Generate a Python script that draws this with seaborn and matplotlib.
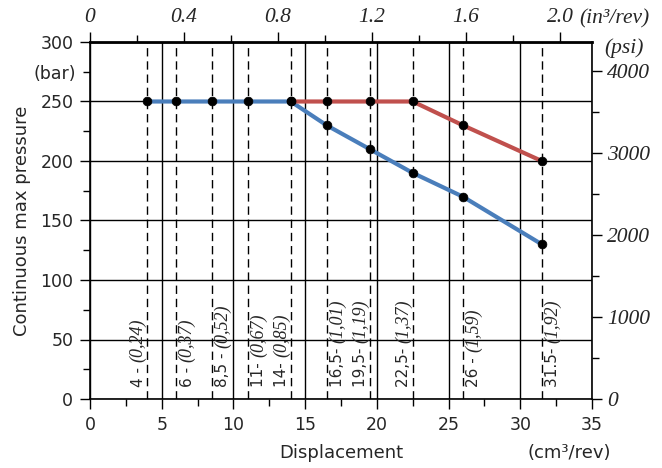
import numpy as np
import pandas as pd
import matplotlib
matplotlib.use("Agg")
import matplotlib.pyplot as plt
import seaborn as sns

# ---- data ----
disp = [4, 6, 8.5, 11, 14, 16.5, 19.5, 22.5, 26, 31.5]
blue_p = [250, 250, 250, 250, 250, 230, 210, 190, 170, 130]
red_disp = [14, 16.5, 19.5, 22.5, 26, 31.5]
red_p = [250, 250, 250, 250, 230, 200]
lab_num = ["4 - ", "6 - ", "8,5 - ", "11- ", "14- ", "16,5- ", "19,5- ", "22,5- ", "26 - ", "31.5- "]
lab_in = ["(0,24)", "(0,37)", "(0,52)", "(0,67)", "(0,85)", "(1,01)", "(1,19)", "(1,37)", "(1,59)", "(1,92)"]
lab_side = [-1, 1, 1, 1, -1, 1, -1, -1, 1, 1]
x_ticks = [0, 5, 10, 15, 20, 25, 30, 35]
y_ticks = [0, 50, 100, 150, 200, 250, 300]
psi_ticks = [0, 1000, 2000, 3000, 4000]
in_ticks = [0, 0.4, 0.8, 1.2, 1.6, 2.0]
in_labels = ["0", "0.4", "0.8", "1.2", "1.6", "2.0"]

BAR_TO_PSI = 14.5038
CM3_PER_IN3 = 16.387

sns.set_style("white")
plt.rcParams['font.family'] = ['DejaVu Sans']

serif_it = dict(family='Liberation Serif', style='italic', size=15.5)

fig = plt.figure(figsize=(6.62, 4.68), dpi=100)
ax = fig.add_axes([90/662, 1-399/468, 502/662, 357/468])

blue = "#4A7EBB"
red = "#C0504D"

df_b = pd.DataFrame({"disp": disp, "p": blue_p})
df_r = pd.DataFrame({"disp": red_disp, "p": red_p})
sns.lineplot(data=df_b, x="disp", y="p", ax=ax, color=blue, lw=3, zorder=3)
sns.lineplot(data=df_r, x="disp", y="p", ax=ax, color=red, lw=3, zorder=4)
sns.scatterplot(data=df_b, x="disp", y="p", ax=ax, color="black", s=40, zorder=5, edgecolor="black")
sns.scatterplot(data=df_r, x="disp", y="p", ax=ax, color="black", s=40, zorder=5, edgecolor="black")

for x in disp:
    ax.axvline(x, color="black", lw=1, ls=(0, (6, 3.5)), zorder=2)

ax.set_xlim(0, 35)
ax.set_ylim(0, 300)
ax.set_xticks(x_ticks)
ax.set_xticks(np.arange(2.5, 35, 5), minor=True)
ax.set_yticks(y_ticks)
ax.set_yticks(np.arange(25, 300, 50), minor=True, labels=["", "", "", "", "", "(bar)"])
ax.grid(True, which="major", color="black", lw=1)
ax.set_axisbelow(True)
ax.tick_params(which="major", direction="out", length=7, width=1, color="black",
               labelsize=12.5, pad=5, left=True, bottom=True)
ax.tick_params(which="minor", direction="out", length=5, width=1, color="black",
               labelsize=12.5, pad=5, left=True, bottom=True)
for s in ax.spines.values():
    s.set_color("black")
    s.set_linewidth(1.2)
ax.spines["top"].set_linewidth(2)

ax.set_xlabel("Displacement", fontsize=13)
ax.set_ylabel("Continuous max pressure", fontsize=13)
ax.xaxis.set_label_coords(0.5, -0.125)
ax.yaxis.set_label_coords(-0.118, 0.5)

# rotated labels: upright sans number + italic serif inch value, baselines aligned
renderer = fig.canvas.get_renderer()
inv = ax.transData.inverted()
for x, n, i, sd in zip(disp, lab_num, lab_in, lab_side):
    bx = x + 0.7 * sd + 0.38
    t = ax.text(bx, 10, n, rotation=90, rotation_mode="anchor", ha="left",
                va="baseline", fontsize=11, zorder=6)
    bb = t.get_window_extent(renderer)
    ytop = inv.transform((bb.x0, bb.y1))[1]
    ax.text(bx, ytop, i, rotation=90, rotation_mode="anchor", ha="left",
            va="baseline", family="Liberation Serif", style="italic", fontsize=13, zorder=6)

# right axis (psi)
ax2 = ax.twinx()
ax2.set_ylim(0, 300 * BAR_TO_PSI)
ax2.set_yticks(psi_ticks)
ax2.set_yticks(np.arange(500, 4500, 1000), minor=True)
ax2.set_yticklabels([str(v) for v in psi_ticks], fontdict=serif_it)
ax2.tick_params(which="both", direction="out", width=1, color="black", pad=4, right=True)
ax2.tick_params(which="major", length=7)
ax2.tick_params(which="minor", length=5)
ax2.grid(False)
for s in ax2.spines.values():
    s.set_visible(False)

# top axis (in3/rev)
ax3 = ax.twiny()
ax3.set_xlim(0, 35 / CM3_PER_IN3)
ax3.set_xticks(in_ticks)
ax3.set_xticks(np.arange(0.2, 2.1, 0.4), minor=True)
ax3.set_xticklabels(in_labels, fontdict=serif_it)
ax3.tick_params(which="both", direction="out", width=1, color="black", pad=4, top=True)
ax3.tick_params(which="major", length=7)
ax3.tick_params(which="minor", length=5)
ax3.grid(False)
for s in ax3.spines.values():
    s.set_visible(False)

fig.text(579/662, 1-19/468, "(in³/rev)", ha="left", va="center", **serif_it)
fig.text(604/662, 1-48/468, "(psi)", ha="left", va="center", **serif_it)
fig.text(569/662, 1-453/468, "(cm³/rev)", ha="center", va="center", fontsize=13)

fig.savefig("out.png", dpi=100)
